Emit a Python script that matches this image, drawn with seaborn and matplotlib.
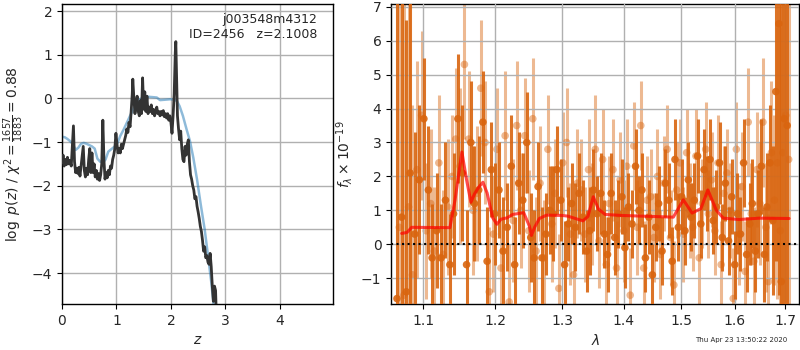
import matplotlib
matplotlib.use("Agg")
import matplotlib.pyplot as plt
import seaborn as sns
import numpy as np
import pandas as pd

# ---------------- data: left panel (redshift fit) ----------------
z_fit = [0.00, 0.02, 0.04, 0.06, 0.08, 0.10, 0.12, 0.14, 0.17, 0.19,
         0.21, 0.23, 0.25, 0.27, 0.29, 0.31, 0.33, 0.35, 0.37, 0.39,
         0.41, 0.43, 0.45, 0.47, 0.49, 0.51, 0.53, 0.55, 0.57, 0.59,
         0.61, 0.63, 0.65, 0.67, 0.69, 0.71, 0.73, 0.75, 0.77, 0.79,
         0.81, 0.83, 0.85, 0.87, 0.89, 0.91, 0.93, 0.95, 0.97, 0.99,
         1.01, 1.03, 1.05, 1.07, 1.09, 1.11, 1.13, 1.15, 1.17, 1.19,
         1.21, 1.23, 1.25, 1.27, 1.29, 1.30, 1.32, 1.34, 1.36, 1.38,
         1.40, 1.42, 1.44, 1.46, 1.48, 1.50, 1.52, 1.54, 1.56, 1.58,
         1.60, 1.62, 1.64, 1.66, 1.68, 1.70, 1.72, 1.74, 1.76, 1.78,
         1.80, 1.82, 1.84, 1.86, 1.88, 1.90, 1.92, 1.94, 1.96, 1.98,
         2.00, 2.02, 2.04, 2.06, 2.08, 2.09, 2.10, 2.12, 2.14, 2.16,
         2.18, 2.20, 2.22, 2.24, 2.26, 2.28, 2.30, 2.32, 2.34, 2.36,
         2.38, 2.40, 2.42, 2.44, 2.46, 2.48, 2.50, 2.52, 2.54, 2.56,
         2.58, 2.60, 2.62, 2.64, 2.66, 2.68, 2.70, 2.72, 2.74, 2.76,
         2.78, 2.80, 2.82, 2.84]
logp_fit = [-1.48, -1.30, -1.55, -1.40, -1.52, -1.35, -1.50, -1.42, -1.55, -1.10,
            -0.63, -1.45, -1.70, -1.60, -1.72, -1.58, -1.78, -1.55, -1.30, -1.10,
            -1.65, -1.80, -1.60, -1.75, -1.40, -1.15, -1.70, -1.25, -1.70, -1.50,
            -1.80, -1.65, -1.85, -1.72, -1.88, -1.75, -1.50, -0.50, -1.40, -1.85,
            -1.70, -1.82, -1.65, -1.75, -1.55, -1.60, -1.40, -1.30, -1.15, -0.80,
            -1.05, -1.25, -1.15, -1.25, -1.05, -1.15, -1.05, -0.95, -0.85, -0.70,
            -0.78, -0.55, -0.65, -0.30, 0.10, 0.44, 0.00, -0.35, -0.10, 0.05,
            -0.30, -0.40, -0.05, -0.35, 0.47, -0.25, 0.15, -0.30, 0.05, -0.35,
            -0.20, -0.30, -0.15, -0.35, -0.25, -0.40, -0.30, -0.20, -0.35, -0.30,
            -0.40, -0.30, -0.38, -0.28, -0.42, -0.35, -0.45, -0.35, -0.50, -0.40,
            -0.55, -0.80, -0.40, 0.10, 1.05, 1.30, 0.70, -0.40, -0.70, -0.95,
            -0.75, -1.15, -1.40, -1.45, -1.10, -1.30, -1.05, -0.95, -1.45, -1.75,
            -1.85, -2.00, -2.10, -2.30, -2.25, -2.47, -2.60, -2.75, -2.93, -3.05,
            -3.25, -3.50, -3.40, -3.65, -3.60, -3.75, -3.80, -3.55, -3.85, -4.30,
            -4.65, -4.30, -4.40, -5.20]

z_prior = [0.00, 0.05, 0.10, 0.15, 0.20, 0.25, 0.30, 0.35, 0.40, 0.45,
           0.50, 0.55, 0.60, 0.65, 0.70, 0.76, 0.80, 0.85, 0.90, 0.97,
           1.02, 1.07, 1.13, 1.19, 1.25, 1.31, 1.37, 1.43, 1.50, 1.56,
           1.65, 1.74, 1.80, 1.90, 1.99, 2.06, 2.11, 2.16, 2.22, 2.29,
           2.35, 2.41, 2.48, 2.55, 2.62, 2.69, 2.74, 2.79]
logp_prior = [-0.88, -0.89, -0.93, -0.98, -1.05, -1.18, -1.13, -1.04, -1.02, -1.04,
              -1.07, -1.10, -1.15, -1.38, -1.45, -1.46, -1.40, -1.22, -1.17, -1.10,
              -1.02, -0.86, -0.72, -0.56, -0.40, -0.25, -0.12, -0.02, 0.02, 0.04,
              0.03, 0.02, -0.04, -0.03, -0.02, -0.03, -0.06, -0.18, -0.40, -0.72,
              -0.98, -1.35, -1.86, -2.45, -3.00, -3.69, -4.20, -4.80]

# ---------------- data: right panel (spectrum) ----------------
wave_a = [1.066, 1.072, 1.078, 1.083, 1.089, 1.095, 1.101, 1.107, 1.112, 1.118,
          1.124, 1.130, 1.136, 1.141, 1.147, 1.153, 1.159, 1.165, 1.170, 1.176,
          1.182, 1.188, 1.194, 1.199, 1.205, 1.211, 1.217, 1.223, 1.228, 1.234,
          1.240, 1.246, 1.252, 1.257, 1.263, 1.269, 1.275, 1.281, 1.286, 1.292,
          1.298, 1.304, 1.310, 1.315, 1.321, 1.327, 1.333, 1.339, 1.344, 1.350,
          1.356, 1.362, 1.368, 1.373, 1.379, 1.385, 1.391, 1.397, 1.402, 1.408,
          1.414, 1.420, 1.426, 1.431, 1.437, 1.443, 1.449, 1.455, 1.460, 1.466,
          1.472, 1.478, 1.484, 1.489, 1.495, 1.501, 1.507, 1.513, 1.518, 1.524,
          1.530, 1.536, 1.542, 1.547, 1.553, 1.559, 1.565, 1.571, 1.576, 1.582,
          1.588, 1.594, 1.600, 1.605, 1.611, 1.617, 1.623, 1.629, 1.634, 1.640,
          1.646, 1.652, 1.658, 1.663, 1.669, 1.675, 1.681, 1.687, 1.692, 1.698,
          1.704]
flux_a = [-1.6, 0.8, -1.4, 2.1, 0.3, 1.9, 3.7, 1.6, -0.4, 0.4,
          -0.4, 1.3, -0.6, 0.9, 3.7, 2.1, -0.6, 3.0, 1.2, 1.6,
          3.6, -0.5, 2.2, 0.9, 1.6, -0.2, 0.5, 2.3, -0.6, 1.8,
          1.3, 3.0, 0.2, -0.4, 1.7, -0.4, 0.3, 1.0, 0.9, 2.2,
          1.3, -0.6, 0.6, 1.2, 0.5, 1.5, 0.8, -0.2, 0.4, 1.6,
          0.9, 1.5, 0.3, -0.3, 1.5, 0.2, 0.9, 1.4, -0.1, 1.1,
          0.6, 2.3, 1.0, 1.6, -0.4, 0.8, -0.9, 0.5, 1.2, -0.2,
          1.8, 1.3, -0.5, 2.5, 0.5, 1.4, 0.4, 1.9, 0.8, 1.3,
          2.6, 0.6, 2.2, 1.5, 2.5, 0.7, 1.1, 2.4, 0.2, 1.8,
          0.1, 1.4, -0.6, 0.9, 0.3, 2.4, -0.3, 0.6, 1.2, -0.2,
          0.9, 2.3, -0.3, 1.1, 2.4, 0.7, 4.5, 6.5, -1.1, 3.7,
          3.5]
err_a = [9.0, 9.0, 8.0, 6.0, 3.0, 2.2, 1.8, 1.9, 1.6, 1.7,
         1.6, 1.7, 1.5, 1.8, 1.9, 2.0, 1.6, 1.8, 1.7, 1.6,
         1.5, 1.6, 1.4, 1.5, 1.4, 1.6, 1.3, 1.5, 1.4, 1.5,
         1.4, 1.5, 1.3, 1.4, 1.3, 1.5, 1.2, 1.3, 1.4, 1.3,
         1.2, 1.3, 1.1, 1.2, 1.3, 1.2, 1.1, 1.2, 1.3, 1.2,
         1.1, 1.2, 1.0, 1.1, 1.2, 1.1, 1.0, 1.1, 1.2, 1.0,
         1.0, 1.1, 1.0, 1.1, 1.0, 1.1, 0.9, 1.0, 1.1, 1.0,
         1.0, 1.1, 1.0, 1.2, 1.0, 1.1, 1.0, 1.1, 1.0, 1.1,
         1.1, 1.0, 1.2, 1.1, 1.2, 1.0, 1.1, 1.2, 1.0, 1.1,
         1.0, 1.1, 1.0, 1.2, 1.1, 1.3, 1.1, 1.2, 1.3, 1.2,
         1.3, 1.4, 1.4, 1.6, 1.7, 2.2, 5.0, 8.0, 9.0, 9.0,
         9.0]

wave_b = [1.069, 1.075, 1.081, 1.086, 1.092, 1.098, 1.104, 1.110, 1.115, 1.121,
          1.127, 1.133, 1.139, 1.144, 1.150, 1.156, 1.162, 1.168, 1.173, 1.179,
          1.185, 1.191, 1.197, 1.202, 1.208, 1.214, 1.220, 1.226, 1.231, 1.237,
          1.243, 1.249, 1.255, 1.260, 1.266, 1.272, 1.278, 1.284, 1.289, 1.295,
          1.301, 1.307, 1.313, 1.318, 1.324, 1.330, 1.336, 1.342, 1.347, 1.353,
          1.359, 1.365, 1.371, 1.376, 1.382, 1.388, 1.394, 1.400, 1.405, 1.411,
          1.417, 1.423, 1.429, 1.434, 1.440, 1.446, 1.452, 1.458, 1.463, 1.469,
          1.475, 1.481, 1.487, 1.492, 1.498, 1.504, 1.510, 1.516, 1.521, 1.527,
          1.533, 1.539, 1.545, 1.550, 1.556, 1.562, 1.568, 1.574, 1.579, 1.585,
          1.591, 1.597, 1.603, 1.608, 1.614, 1.620, 1.626, 1.632, 1.637, 1.643,
          1.649, 1.655, 1.661, 1.666, 1.672, 1.678, 1.684, 1.690, 1.695, 1.701,
          1.707]
flux_b = [0.5, -1.5, 1.1, -0.9, 2.2, 3.8, 0.4, 1.2, -0.2, 2.4,
          -0.3, 1.1, 2.0, 3.1, 2.3, 5.3, 3.1, 1.0, 1.5, 4.6,
          3.0, -1.4, 0.3, 2.8, -0.7, 3.2, -1.7, 0.7, 3.5, 1.0,
          3.2, 0.4, 3.7, -0.2, 1.8, -0.4, 2.8, 0.6, 1.5, -1.3,
          2.4, 3.0, 0.3, -0.9, 1.8, 1.6, 0.3, 2.2, 0.9, 2.8,
          0.1, 2.5, -0.6, 1.2, 2.2, -0.7, 1.9, 0.4, 2.3, -1.5,
          2.9, 0.5, 3.5, -0.7, 1.3, 1.4, 0.2, 2.0, -0.3, 1.8,
          2.8, 0.2, -1.2, 1.6, 2.4, 0.3, 2.7, 1.0, 0.5, 2.6,
          -0.4, 1.2, 2.8, 0.9, 1.9, 0.4, 2.4, -0.6, 1.5, 2.1,
          1.0, -1.6, 2.8, 0.3, 1.7, -0.8, 3.6, 0.9, -0.5, 2.2,
          1.2, 3.6, 0.5, -1.1, 2.7, 1.3, 2.4, 0.4, 2.7, 3.8,
          2.5]
err_b = [9.0, 9.0, 8.0, 5.0, 3.2, 2.5, 2.0, 2.2, 1.9, 2.0,
         1.9, 2.0, 1.8, 2.1, 2.3, 2.2, 2.0, 1.9, 2.0, 2.0,
         1.8, 1.9, 1.7, 1.8, 1.7, 1.9, 1.7, 1.8, 1.9, 1.7,
         1.7, 1.8, 1.8, 1.6, 1.7, 1.7, 1.6, 1.7, 1.6, 1.6,
         1.5, 1.6, 1.5, 1.5, 1.6, 1.5, 1.4, 1.5, 1.5, 1.6,
         1.4, 1.5, 1.4, 1.4, 1.5, 1.4, 1.4, 1.5, 1.4, 1.4,
         1.3, 1.4, 1.3, 1.4, 1.3, 1.4, 1.3, 1.4, 1.3, 1.4,
         1.3, 1.4, 1.3, 1.4, 1.3, 1.4, 1.3, 1.4, 1.3, 1.4,
         1.4, 1.3, 1.4, 1.3, 1.4, 1.3, 1.4, 1.3, 1.4, 1.3,
         1.4, 1.5, 1.4, 1.5, 1.6, 1.5, 1.6, 1.5, 1.6, 1.7,
         1.8, 1.9, 1.9, 2.0, 2.1, 2.5, 4.0, 6.0, 7.0, 8.0,
         9.0]

wave_model = [1.072, 1.079, 1.085, 1.136, 1.143, 1.1525, 1.159, 1.165, 1.170, 1.176,
              1.182, 1.188, 1.196, 1.202, 1.208, 1.217, 1.225, 1.2415, 1.250, 1.253,
              1.258, 1.265, 1.276, 1.300, 1.309, 1.333, 1.341, 1.3497, 1.358, 1.369,
              1.396, 1.486, 1.504, 1.520, 1.536, 1.549, 1.565, 1.578, 1.608, 1.648,
              1.708]
flux_model = [0.32, 0.35, 0.50, 0.49, 1.30, 2.72, 1.90, 1.24, 1.48, 1.68,
              1.83, 1.51, 0.78, 0.59, 0.74, 0.78, 0.88, 0.93, 0.53, 0.26,
              0.51, 0.76, 0.86, 0.85, 0.83, 0.69, 0.82, 1.40, 1.04, 0.88,
              0.85, 0.80, 1.31, 0.92, 1.05, 1.60, 1.00, 0.77, 0.73, 0.77,
              0.76]

xticks_right = [1.1, 1.2, 1.3, 1.4, 1.5, 1.6, 1.7]
xtick_labels_right = ["1.1", "1.2", "1.3", "1.4", "1.5", "1.6", "1.7"]

# ---------------- figure ----------------
sns.set_theme(style="ticks")
plt.rcParams["font.family"] = ["DejaVu Sans"]
plt.rcParams["axes.edgecolor"] = "black"

fig = plt.figure(figsize=(8, 3.5), dpi=100)
ax1 = fig.add_axes([0.0775, 0.1314, 0.339, 0.857])
ax2 = fig.add_axes([0.489, 0.1314, 0.510, 0.857])

grid_kw = dict(color="#b0b0b0", linewidth=1.0, alpha=1.0)

# left panel
df_prior = pd.DataFrame({"z": z_prior, "logp": logp_prior})
df_fit = pd.DataFrame({"z": z_fit, "logp": logp_fit})
sns.lineplot(data=df_prior, x="z", y="logp", ax=ax1, color="#1f77b4", alpha=0.5,
             linewidth=1.8, sort=False, zorder=2)
sns.lineplot(data=df_fit, x="z", y="logp", ax=ax1, color="#333333", alpha=1.0,
             linewidth=2.0, sort=False, zorder=3)
ax1.set_xlim(0, 4.98)
ax1.set_ylim(-4.71, 2.16)
ax1.set_xticks([0, 1, 2, 3, 4])
ax1.set_yticks([-4, -3, -2, -1, 0, 1, 2])
ax1.grid(True, **grid_kw)
ax1.set_axisbelow(True)
ax1.set_xlabel(r"$z$", fontsize=10)
ax1.set_ylabel(r"$\log\ p(z)$ / $\chi^2=\frac{1657}{1883}=0.88$", fontsize=10)
ax1.tick_params(labelsize=10, length=3.5, width=0.8, color="black")
ax1.text(0.94, 0.97, "j003548m4312\nID=2456   z=2.1008", transform=ax1.transAxes,
         ha="right", va="top", fontsize=9, linespacing=1.2)

# right panel
ax2.errorbar(wave_b, flux_b, yerr=err_b, fmt="none", ecolor="#d9650f", elinewidth=2.2,
             alpha=0.45, zorder=2)
ax2.errorbar(wave_a, flux_a, yerr=err_a, fmt="none", ecolor="#d9650f", elinewidth=2.2,
             alpha=0.9, zorder=3)
sns.scatterplot(x=wave_b, y=flux_b, ax=ax2, color="#d9650f", alpha=0.45, s=30,
                edgecolor="none", zorder=2)
sns.scatterplot(x=wave_a, y=flux_a, ax=ax2, color="#d9650f", alpha=0.9, s=30,
                edgecolor="none", zorder=3)
sns.lineplot(x=wave_model, y=flux_model, ax=ax2, color="red", alpha=0.7, linewidth=2.2,
             sort=False, zorder=5)
ax2.axhline(0, color="black", linestyle=":", linewidth=1.5, zorder=6)
ax2.set_xscale("log")
ax2.set_xlim(1.0586, 1.7288)
ax2.set_ylim(-1.76, 7.08)
ax2.set_xticks(xticks_right)
ax2.set_xticklabels(xtick_labels_right)
ax2.xaxis.set_minor_locator(matplotlib.ticker.NullLocator())
ax2.set_yticks([-1, 0, 1, 2, 3, 4, 5, 6, 7])
ax2.grid(True, **grid_kw)
ax2.set_axisbelow(False)
ax2.set_xlabel(r"$\lambda$", fontsize=10)
ax2.set_ylabel(r"$f_\lambda\times10^{-19}$", fontsize=10)
ax2.tick_params(labelsize=10, length=3.5, width=0.8, color="black")

for ax in (ax1, ax2):
    for sp in ax.spines.values():
        sp.set_visible(True)
        sp.set_color("black")
        sp.set_linewidth(1.0)

fig.text(0.926, 0.028, "Thu Apr 23 13:50:22 2020", ha="center", va="center", fontsize=5)

fig.savefig("out.png", dpi=100)
